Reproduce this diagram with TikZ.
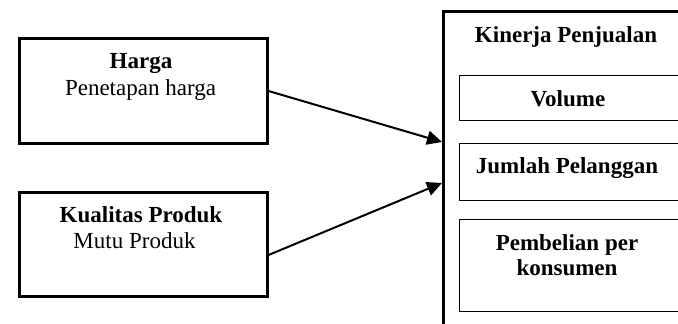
\documentclass[tikz,border=0pt]{standalone}
\usepackage{fontspec}
\setmainfont{Liberation Serif}
\usetikzlibrary{arrows.meta}
\tikzset{
  x=1pt,y=-1pt,
  thickbox/.style={draw,line width=3pt,inner sep=0pt,anchor=north west},
  thinbox/.style={draw,line width=1pt,inner sep=0pt,anchor=north west},
  txt/.style={anchor=base,inner sep=0pt,font=\fontsize{23}{27}\selectfont},
  btxt/.style={txt,font=\fontsize{23}{27}\selectfont\bfseries},
  conn/.style={line width=2pt,-{Triangle[length=15pt,width=14pt]}}
}
\begin{document}
\begin{tikzpicture}
\useasboundingbox (0,0) rectangle (678,324);
\clip (0,0) rectangle (678,324);
% left boxes
\node[thickbox,minimum width=248pt,minimum height=105pt] (harga) at (17.5,36.5) {};
\node[thickbox,minimum width=248pt,minimum height=104.5pt] (kual) at (17.5,190.5) {};
\node[btxt] (hargaT) at (141,68) {Harga};
\node[txt] (hargaS) at (140.5,95) {Penetapan harga};
\node[btxt] (kualT) at (141,222) {Kualitas Produk};
\node[txt] (kualS) at (134.5,248) {Mutu Produk};
% right outer box
\node[thickbox,minimum width=255pt,minimum height=340pt] (kin) at (442,10) {};
\node[btxt] (kinT) at (566,42) {Kinerja Penjualan};
% inner boxes
\node[thinbox,minimum width=222pt,minimum height=44.5pt] (vol) at (459,75) {};
\node[thinbox,minimum width=222pt,minimum height=57.3pt] (jum) at (459,142.7) {};
\node[thinbox,minimum width=222pt,minimum height=91.7pt] (pem) at (459,219) {};
\node[btxt] (volT) at (568,106) {Volume};
\node[btxt] (jumT) at (567,173) {Jumlah Pelanggan};
\node[btxt] (pemT1) at (567,250) {Pembelian per};
\node[btxt] (pemT2) at (567,275) {konsumen};
% connectors
\coordinate (t1) at (kin.north west |- 0,142);
\coordinate (t2) at (kin.north west |- 0,183);
\coordinate (s1) at (harga.east |- 0,91);
\coordinate (s2) at (kual.east |- 0,255);
\draw[conn] (s1) -- (t1);
\draw[conn] (s2) -- (t2);
\end{tikzpicture}
\end{document}
